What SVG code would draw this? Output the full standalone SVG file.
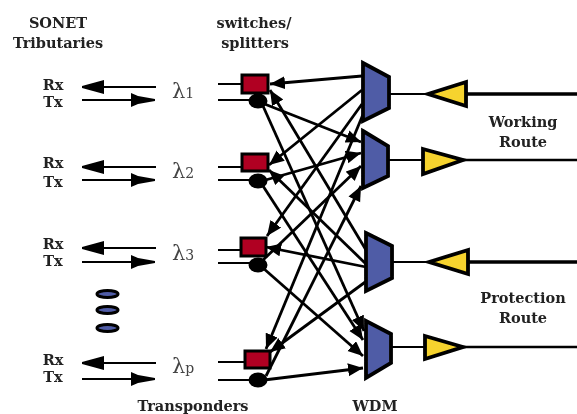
<svg xmlns="http://www.w3.org/2000/svg" width="577" height="414" viewBox="0 0 577 414">
<style>
text{font-family:"DejaVu Serif","Liberation Serif",serif;font-weight:bold;font-size:14.500px;fill:#222;text-anchor:middle}
text.lam{font-weight:normal;font-size:21px;fill:#444;text-anchor:start}
.lam tspan{font-size:14px}
.thin{stroke:#000;stroke-width:1.800;fill:none}
.x{stroke:#000;stroke-width:2.800;fill:none;marker-end:url(#head)}
.h{stroke:#000;fill:none;marker-start:url(#bigs);stroke-width:1.800}
.t{stroke:#000;stroke-width:1.800;fill:none;marker-end:url(#big)}
.box{fill:#b00020;stroke:#000;stroke-width:3}
.cir{fill:#000}
.mux{fill:#4f5ba6;stroke:#000;stroke-width:3.800;stroke-linejoin:miter}
.amp{fill:#f6d32d;stroke:#000;stroke-width:3.800;stroke-linejoin:miter}
.dot{fill:#4f5ba6;stroke:#000;stroke-width:3}
</style>
<defs>
<filter id="soft" x="0" y="0" width="100%" height="100%" filterUnits="objectBoundingBox"><feGaussianBlur stdDeviation="0.450"/></filter>
<marker id="head" markerUnits="userSpaceOnUse" markerWidth="18" markerHeight="14" refX="15" refY="6.500" orient="auto"><path d="M0 0L15 6.500L0 13Z" fill="#000"/></marker>
<marker id="big" markerUnits="userSpaceOnUse" markerWidth="26" markerHeight="16" refX="24" refY="7" orient="auto"><path d="M0 0L7 3L24 6V8L7 11L0 14Z" fill="#000"/></marker>
<marker id="bigs" markerUnits="userSpaceOnUse" markerWidth="26" markerHeight="16" refX="0" refY="7" orient="auto"><path d="M0 6L22 0V14L0 8Z" fill="#000"/></marker>
</defs>
<g filter="url(#soft)">
<rect x="0" y="0" width="577" height="414" fill="#fff"/>
<g id="connectors">
<path class="h" d="M82 87H156"/><path class="t" d="M82 100H155"/>
<path class="h" d="M82 167H156"/><path class="t" d="M82 180H155"/>
<path class="h" d="M82 248H156"/><path class="t" d="M82 262H155"/>
<path class="h" d="M82 363H156"/><path class="t" d="M82 379H155"/>
<path class="thin" d="M218 84H242M218 100H250M218 167H242M218 180H250M218 250H240M218 263H250M218 362H245M218 380H250"/>
<path class="x" d="M362 76L270 84"/>
<path class="x" d="M366 250L270 90"/>
<path class="x" d="M362 90L269 165"/>
<path class="x" d="M366 264L269 170"/>
<path class="x" d="M362 104L267 236"/>
<path class="x" d="M366 267L266 247"/>
<path class="x" d="M364 112L266 349"/>
<path class="x" d="M368 280L270 352"/>
<path class="x" d="M262 103L361 142"/>
<path class="x" d="M263 106L364 331"/>
<path class="x" d="M262 181L361 153"/>
<path class="x" d="M263 186L363 340"/>
<path class="x" d="M262 261L361 166"/>
<path class="x" d="M263 268L363 356"/>
<path class="x" d="M266 376L361 186"/>
<path class="x" d="M264 380L363 368"/>
<path class="thin" stroke-width="2" d="M389 94H426M388 160H424M392 262H428M391 347H424"/>
<path stroke="#000" stroke-width="3.500" fill="none" d="M466 94H577M468 262H577"/>
<path stroke="#000" stroke-width="2.500" fill="none" d="M462 160H577M462 347H577"/>
</g>
<g id="switch1"><rect class="box" x="242" y="75" width="26" height="18"/><ellipse class="cir" cx="258" cy="101" rx="9.500" ry="7.500"/></g>
<g id="switch2"><rect class="box" x="242" y="154" width="26" height="17"/><ellipse class="cir" cx="258" cy="181" rx="9.500" ry="7.500"/></g>
<g id="switch3"><rect class="box" x="241" y="238" width="25" height="18"/><ellipse class="cir" cx="258" cy="265" rx="9.500" ry="7.500"/></g>
<g id="switchp"><rect class="box" x="245" y="351" width="25" height="17"/><ellipse class="cir" cx="258" cy="380" rx="9.500" ry="7.500"/></g>
<g id="mux1"><path class="mux" d="M363 63L389 77V108L363 121Z"/></g>
<g id="mux2"><path class="mux" d="M363 131L388 146V176L363 188Z"/></g>
<g id="mux3"><path class="mux" d="M366 233L392 246V278L366 291Z"/></g>
<g id="mux4"><path class="mux" d="M366 321L391 334V363L366 378Z"/></g>
<g id="amp1"><path class="amp" d="M428 94L466 82V106Z"/></g>
<g id="amp2"><path class="amp" d="M423 149L463 160L423 174Z"/></g>
<g id="amp3"><path class="amp" d="M429 262L468 250V274Z"/></g>
<g id="amp4"><path class="amp" d="M425 336L463 347L425 359Z"/></g>
<g id="dots">
<ellipse class="dot" cx="107.500" cy="294" rx="10.500" ry="3.500"/>
<ellipse class="dot" cx="107.500" cy="310" rx="10.500" ry="3.500"/>
<ellipse class="dot" cx="107.500" cy="328" rx="10.500" ry="3.500"/>
</g>
<g id="labels">
<text x="58" y="28">SONET</text>
<text x="58" y="48">Tributaries</text>
<text x="254" y="28">switches/</text>
<text x="255" y="48">splitters</text>
<text x="53" y="90">Rx</text><text x="53" y="107">Tx</text>
<text x="53" y="168">Rx</text><text x="53" y="187">Tx</text>
<text x="53" y="249">Rx</text><text x="53" y="266">Tx</text>
<text x="53" y="365">Rx</text><text x="53" y="382">Tx</text>
<text class="lam" x="172" y="98">λ<tspan>1</tspan></text>
<text class="lam" x="172" y="178">λ<tspan>2</tspan></text>
<text class="lam" x="172" y="260">λ<tspan>3</tspan></text>
<text class="lam" x="172" y="373">λ<tspan>p</tspan></text>
<text x="193" y="411">Transponders</text>
<text x="375" y="411">WDM</text>
<text x="523" y="127">Working</text>
<text x="523" y="147">Route</text>
<text x="523" y="303">Protection</text>
<text x="523" y="323">Route</text>
</g>
</g>
</svg>
